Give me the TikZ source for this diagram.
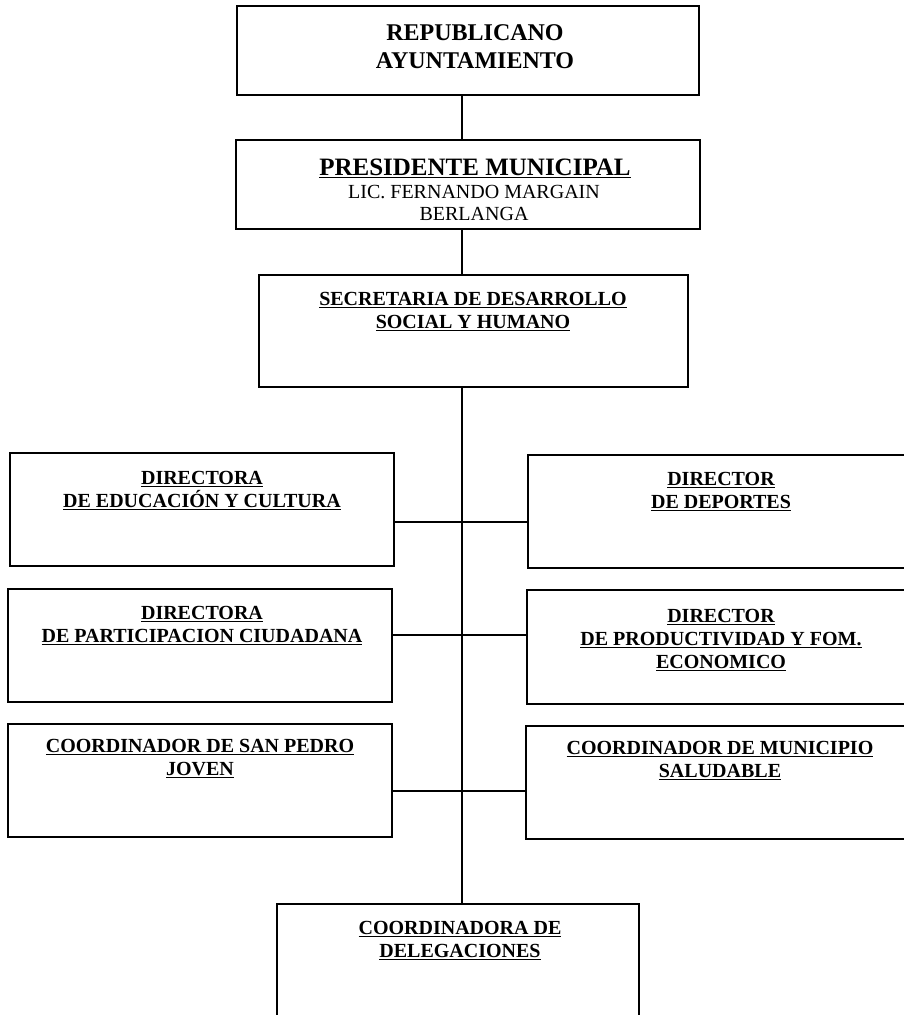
\documentclass[tikz,border=0pt]{standalone}
\usepackage{fontspec}
\setmainfont{Liberation Serif}
\newcommand{\ulx}[1]{\setbox0\hbox{#1}\rlap{\rule[-2.8pt]{\wd0}{1.3pt}}\box0}
\begin{document}
\begin{tikzpicture}[x=1pt,y=-1pt,
  box/.style={draw, line width=1.6pt, inner sep=0pt},
  lbl/.style={anchor=base, align=center, inner sep=0pt, font=\fontsize{20}{23}\selectfont\bfseries},
  conn/.style={line width=1.6pt}]
\useasboundingbox (0,0) rectangle (904,1015);
\clip (0,0) rectangle (904,1015);
% boxes
\node[box, minimum width=462pt, minimum height=89pt] (b1) at (468,50.5) {};
\node[box, minimum width=464pt, minimum height=89pt] (b2) at (468,184.5) {};
\node[box, minimum width=429pt, minimum height=112pt] (b3) at (473.5,331) {};
\node[box, minimum width=384pt, minimum height=113pt] (l1) at (202,509.5) {};
\node[box, minimum width=386pt, minimum height=113pt] (r1) at (721,511.5) {};
\node[box, minimum width=384pt, minimum height=113pt] (l2) at (200,645.5) {};
\node[box, minimum width=387pt, minimum height=114pt] (r2) at (720.5,647) {};
\node[box, minimum width=384pt, minimum height=113pt] (l3) at (200,780.5) {};
\node[box, minimum width=388pt, minimum height=113pt] (r3) at (720,782.5) {};
\node[box, minimum width=362pt, minimum height=126pt] (b7) at (458,967) {};
% trunk coordinates
\coordinate (tr) at (462,0);
\coordinate (h1) at (462,522);
\coordinate (h2) at (462,635);
\coordinate (h3) at (462,791);
% connectors
\draw[conn] (b1.south -| tr) -- (b2.north -| tr);
\draw[conn] (b2.south -| tr) -- (b3.north -| tr);
\draw[conn] (b3.south -| tr) -- (b7.north -| tr);
\draw[conn] (l1.east |- h1) -- (r1.west |- h1);
\draw[conn] (l2.east |- h2) -- (r2.west |- h2);
\draw[conn] (l3.east |- h3) -- (r3.west |- h3);
% texts (base anchor = baseline of last line)
\node[lbl, font=\fontsize{24}{28}\selectfont\bfseries] (t1) at (475,68) {REPUBLICANO\\AYUNTAMIENTO};
\node[lbl, font=\fontsize{25}{28}\selectfont\bfseries] (t2a) at (475,175) {\ulx{PRESIDENTE MUNICIPAL}};
\node[lbl, font=\fontsize{20}{22}\selectfont] (t2b) at (474,220) {LIC. FERNANDO MARGAIN\\BERLANGA};
\node[lbl] (t3) at (473,328) {\ulx{SECRETARIA DE DESARROLLO}\\\ulx{SOCIAL Y HUMANO}};
\node[lbl] (tl1) at (202,507) {\ulx{DIRECTORA}\\\ulx{DE EDUCACIÓN Y CULTURA}};
\node[lbl] (tr1) at (721,508) {\ulx{DIRECTOR}\\\ulx{DE DEPORTES}};
\node[lbl] (tl2) at (202,642) {\ulx{DIRECTORA}\\\ulx{DE PARTICIPACION CIUDADANA}};
\node[lbl] (tr2) at (721,668) {\ulx{DIRECTOR}\\\ulx{DE PRODUCTIVIDAD Y FOM.}\\\ulx{ECONOMICO}};
\node[lbl] (tl3) at (200,775) {\ulx{COORDINADOR DE SAN PEDRO}\\\ulx{JOVEN}};
\node[lbl] (tr3) at (720,777) {\ulx{COORDINADOR DE MUNICIPIO}\\\ulx{SALUDABLE}};
\node[lbl] (t7) at (460,957) {\ulx{COORDINADORA DE}\\\ulx{DELEGACIONES}};
\end{tikzpicture}
\end{document}
